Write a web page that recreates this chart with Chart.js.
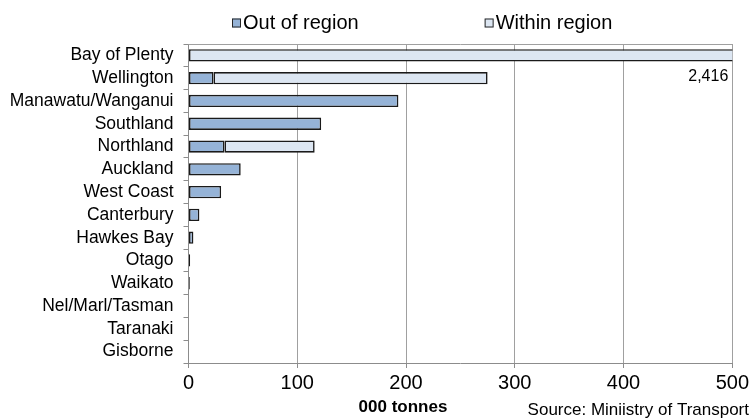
<!DOCTYPE html>
<html>
<head>
<meta charset="utf-8">
<script src="https://cdn.jsdelivr.net/npm/chart.js@4.4.1/dist/chart.umd.min.js"></script>
<style>
  html, body { margin: 0; padding: 0; background: #ffffff; }
  #wrap { width: 752px; height: 419px; }
</style>
</head>
<body>
<div id="wrap"><canvas id="freight" width="752" height="419"></canvas></div>
<script>
// Freight tonnage by region (000 tonnes)
const regions = [
  'Bay of Plenty', 'Wellington', 'Manawatu/Wanganui', 'Southland', 'Northland',
  'Auckland', 'West Coast', 'Canterbury', 'Hawkes Bay', 'Otago', 'Waikato',
  'Nel/Marl/Tasman', 'Taranaki', 'Gisborne'
];
const outOfRegion  = [0, 23, 193, 122, 33, 48, 30, 10, 4.5, 1.5, 1.2, 0.4, 0.4, 0];
const withinRegion = [2416, 252, 0, 0, 83, 0, 0, 0, 0, 0, 0, 0, 0, 0];
const xTicks = [0, 100, 200, 300, 400, 500];
const seriesNames = ['Out of region', 'Within region'];
const xTitle = '000 tonnes';
const sourceNote = 'Source: Miniistry of Transport';

const FONT = '"Liberation Sans", Arial, Helvetica, sans-serif';
const OUT_FILL = '#95b3d7';
const WITHIN_FILL = '#dce6f2';
const EDGE = '#1a1a1a';
const GRID = '#a0a0a0';
const AXIS = '#8c8c8c';

// Empty segments are left out so they draw no outline
const segment = (values) => values.map(v => (v === 0 ? null : v));

// Legend drawn across the top, items laid out left to right
const topLegend = {
  id: 'topLegend',
  afterDraw(chart) {
    const ctx = chart.ctx;
    ctx.save();
    ctx.font = '20px ' + FONT;
    ctx.textBaseline = 'middle';
    ctx.textAlign = 'left';
    let x = 232;
    const y = 23;
    chart.data.datasets.forEach((ds) => {
      ctx.fillStyle = ds.backgroundColor;
      ctx.fillRect(x, y - 4.5, 9, 9);
      ctx.strokeStyle = '#262626';
      ctx.lineWidth = 1;
      ctx.strokeRect(x + 0.5, y - 4, 8, 8);
      ctx.fillStyle = '#000';
      ctx.fillText(ds.label, x + 11, y);
      x += 11 + ctx.measureText(ds.label).width + 126;
    });
    ctx.restore();
  }
};

// Plot frame top edge, axis title, source note and the off-scale total
const annotations = {
  id: 'annotations',
  afterDraw(chart) {
    const ctx = chart.ctx;
    const area = chart.chartArea;
    const yScale = chart.scales.y;
    ctx.save();
    ctx.strokeStyle = GRID;
    ctx.lineWidth = 1;
    ctx.beginPath();
    ctx.moveTo(area.left, Math.round(area.top) + 0.5);
    ctx.lineTo(area.right, Math.round(area.top) + 0.5);
    ctx.stroke();

    ctx.fillStyle = '#000';
    ctx.textBaseline = 'middle';
    ctx.font = 'bold 17px ' + FONT;
    ctx.textAlign = 'center';
    ctx.fillText(xTitle, 403, 407);

    ctx.font = '17px ' + FONT;
    ctx.textAlign = 'right';
    ctx.fillText(sourceNote, 749, 410);

    // Total for the bar that runs past the axis maximum
    const total = outOfRegion[0] + withinRegion[0];
    ctx.font = '16px ' + FONT;
    ctx.fillText(total.toLocaleString('en-US'), area.right - 4, yScale.getPixelForValue(1) - 2);
    ctx.restore();
  }
};

new Chart(document.getElementById('freight'), {
  type: 'bar',
  data: {
    labels: regions,
    datasets: [
      {
        label: seriesNames[0],
        data: segment(outOfRegion),
        backgroundColor: OUT_FILL,
        borderColor: EDGE,
        borderWidth: 1.6,
        borderSkipped: false,
        barPercentage: 0.54,
        categoryPercentage: 1.0
      },
      {
        label: seriesNames[1],
        data: segment(withinRegion),
        backgroundColor: WITHIN_FILL,
        borderColor: EDGE,
        borderWidth: 1.6,
        borderSkipped: false,
        barPercentage: 0.54,
        categoryPercentage: 1.0
      }
    ]
  },
  options: {
    indexAxis: 'y',
    responsive: false,
    animation: false,
    devicePixelRatio: 1,
    layout: { padding: { top: 44, right: 17.5, bottom: 0, left: 0 } },
    plugins: {
      legend: { display: false },
      tooltip: { enabled: false },
      title: { display: false }
    },
    scales: {
      x: {
        type: 'linear',
        stacked: true,
        min: xTicks[0],
        max: xTicks[xTicks.length - 1],
        afterBuildTicks(scale) { scale.ticks = xTicks.map(v => ({ value: v })); },
        ticks: { color: '#000', font: { family: FONT, size: 20 }, padding: 3 },
        grid: { color: GRID, tickColor: AXIS, tickLength: 5, drawTicks: true },
        border: { color: AXIS, width: 1 },
        afterFit(scale) { scale.height = 56; }
      },
      y: {
        type: 'category',
        stacked: true,
        ticks: { color: '#000', font: { family: FONT, size: 17.5 }, padding: 10, autoSkip: false },
        grid: { drawOnChartArea: false, offset: true, tickLength: 5, color: AXIS },
        border: { color: AXIS, width: 1 },
        afterFit(scale) { scale.width = 188.5; }
      }
    }
  },
  plugins: [topLegend, annotations]
});
</script>
</body>
</html>
